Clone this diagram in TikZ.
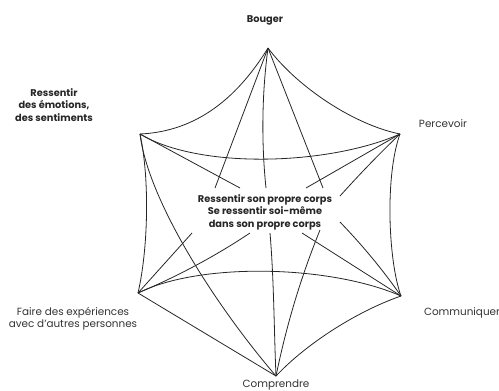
\documentclass[tikz,border=0pt]{standalone}
\usepackage{fontspec}
\setmainfont{Poppins}
\begin{document}
\begin{tikzpicture}[x=1pt,y=-1pt,
  edge/.style={draw=black!85, line width=0.8pt},
  lab/.style={font=\fontsize{10.4}{12.5}\selectfont, align=center, inner sep=0pt, text=black!80},
  blab/.style={font=\fontsize{9.8}{12.5}\selectfont\bfseries, align=center, inner sep=0pt, text=black!85}]
\useasboundingbox (0,0) rectangle (499,391);
% outer vertices
\coordinate (T) at (268,48);
\coordinate (UL) at (140,134);
\coordinate (UR) at (400,134);
\coordinate (LL) at (138,293);
\coordinate (LR) at (401,296);
\coordinate (B) at (276,376);
% free ends near the centre text
\coordinate (a1) at (215,188);
\coordinate (a2) at (266,188);
\coordinate (a3) at (323,188);
\coordinate (b1) at (240,188);
\coordinate (c1) at (306,188);
\coordinate (c2) at (340,196);
\coordinate (d1) at (192,233);
\coordinate (d2) at (250,233);
\coordinate (e1) at (302,233);
\coordinate (e2) at (340,222);
\coordinate (f1) at (270,233);
\coordinate (f2) at (320,230);
% labels
\node[blab] (bouger) at (265,20) {Bouger};
\node[blab] (emo) at (54,105) {Ressentir\\des émotions,\\des sentiments};
\node[lab] (perc) at (443,124) {Percevoir};
\node[lab] (comm) at (462,313) {Communiquer};
\node[lab] (faire) at (73,319) {Faire des expériences\\avec d’autres personnes};
\node[lab, anchor=base] (compr) at (276,387.5) {Comprendre};
\node[blab] (centre) at (265,212) {Ressentir son propre corps\\Se ressentir soi-même\\dans son propre corps};
% outer curved hexagon
\draw[edge] (T) .. controls (230,110) and (185,132) .. (UL);
\draw[edge] (T) .. controls (298,88) and (355,125) .. (UR);
\draw[edge] (UL) .. controls (200,170) and (330,165) .. (UR);
\draw[edge] (UL) .. controls (150,180) and (148,250) .. (LL);
\draw[edge] (UR) .. controls (385,175) and (388,260) .. (LR);
\draw[edge] (UL) .. controls (148,200) and (215,305) .. (B);
\draw[edge] (LL) .. controls (200,262) and (330,265) .. (LR);
\draw[edge] (LL) -- (B);
\draw[edge] (B) .. controls (305,345) and (355,312) .. (LR);
% connectors towards the centre
\draw[edge] (T) -- (a1);
\draw[edge] (T) .. controls (261,100) and (262,150) .. (a2);
\draw[edge] (T) -- (a3);
\draw[edge] (UL) -- (b1);
\draw[edge] (UR) -- (c1);
\draw[edge] (UR) .. controls (378,155) and (358,176) .. (c2);
\draw[edge] (LL) -- (d1);
\draw[edge] (LL) .. controls (176,277) and (214,257) .. (d2);
\draw[edge] (LR) -- (e1);
\draw[edge] (LR) .. controls (383,270) and (363,246) .. (e2);
\draw[edge] (B) .. controls (274,330) and (274,280) .. (f1);
\draw[edge] (B) .. controls (287,323) and (301,277) .. (f2);
\end{tikzpicture}
\end{document}
